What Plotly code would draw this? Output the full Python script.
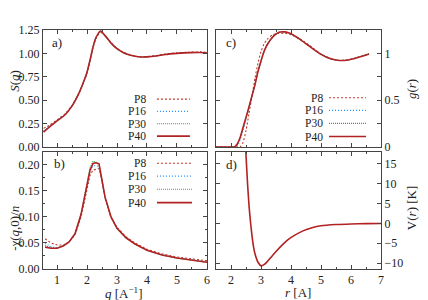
import plotly.graph_objects as go

# ---------------- data ----------------
series_names = ["P8", "P16", "P30", "P40"]

# panel a) S(q)
q_a = [0.55, 0.75, 1.0, 1.25, 1.5, 1.75, 1.9, 2.0, 2.1, 2.2, 2.3, 2.45, 2.6, 2.8,
       3.0, 3.2, 3.4, 3.6, 3.8, 4.0, 4.3, 4.6, 5.0, 5.4, 5.8, 6.0]
S_P40 = [0.16, 0.215, 0.28, 0.34, 0.44, 0.59, 0.71, 0.80, 0.93, 1.07, 1.17, 1.24, 1.19, 1.11,
         1.05, 1.01, 0.985, 0.97, 0.962, 0.963, 0.972, 0.988, 1.0, 1.008, 1.01, 1.005]
S_P30 = [0.165, 0.218, 0.282, 0.34, 0.44, 0.59, 0.71, 0.80, 0.93, 1.07, 1.17, 1.24, 1.19, 1.11,
         1.05, 1.01, 0.985, 0.97, 0.962, 0.963, 0.972, 0.988, 1.0, 1.008, 1.01, 1.005]
S_P16 = [0.172, 0.222, 0.285, 0.342, 0.44, 0.59, 0.71, 0.80, 0.93, 1.07, 1.17, 1.235, 1.19, 1.11,
         1.05, 1.01, 0.985, 0.97, 0.963, 0.965, 0.974, 0.99, 1.002, 1.01, 1.012, 1.008]
S_P8 = [0.20, 0.235, 0.292, 0.35, 0.445, 0.59, 0.70, 0.79, 0.92, 1.06, 1.16, 1.225, 1.19, 1.115,
        1.055, 1.015, 0.99, 0.972, 0.965, 0.967, 0.977, 0.993, 1.006, 1.013, 1.016, 1.012]

# panel b) -chi(q,0)/n
q_b = [0.6, 0.8, 1.0, 1.2, 1.4, 1.6, 1.8, 2.0, 2.1, 2.2, 2.3, 2.4, 2.5, 2.6, 2.8,
       3.0, 3.3, 3.6, 4.0, 4.5, 5.0, 5.5, 6.0]
chi_P40 = [0.042, 0.040, 0.040, 0.044, 0.052, 0.068, 0.105, 0.166, 0.190, 0.203, 0.204, 0.202,
           0.170, 0.138, 0.100, 0.078, 0.060, 0.048, 0.036, 0.027, 0.021, 0.017, 0.013]
chi_P30 = [0.045, 0.041, 0.040, 0.044, 0.052, 0.068, 0.105, 0.168, 0.195, 0.207, 0.205, 0.200,
           0.170, 0.138, 0.100, 0.078, 0.060, 0.048, 0.036, 0.027, 0.021, 0.017, 0.013]
chi_P16 = [0.049, 0.043, 0.041, 0.044, 0.052, 0.068, 0.104, 0.165, 0.188, 0.198, 0.199, 0.196,
           0.170, 0.138, 0.100, 0.078, 0.060, 0.048, 0.036, 0.027, 0.021, 0.017, 0.014]
chi_P8 = [0.058, 0.050, 0.046, 0.046, 0.052, 0.066, 0.100, 0.158, 0.180, 0.190, 0.192, 0.193,
          0.170, 0.136, 0.099, 0.080, 0.062, 0.050, 0.038, 0.029, 0.023, 0.019, 0.016]

# panel c) g(r)
r_c = [1.5, 2.0, 2.1, 2.2, 2.3, 2.4, 2.5, 2.6, 2.7, 2.8, 2.9, 3.0, 3.1, 3.2, 3.4, 3.6,
       3.8, 4.0, 4.3, 4.6, 5.0, 5.3, 5.6, 5.9, 6.2, 6.6]
g_P40 = [0.0, 0.0, 0.0, 0.03, 0.10, 0.21, 0.32, 0.43, 0.55, 0.67, 0.81, 0.92, 1.02, 1.09, 1.18, 1.225,
         1.23, 1.21, 1.15, 1.08, 0.99, 0.945, 0.925, 0.93, 0.955, 0.995]
g_P30 = [0.0, 0.0, 0.0, 0.02, 0.09, 0.20, 0.31, 0.43, 0.55, 0.67, 0.81, 0.92, 1.02, 1.09, 1.18, 1.225,
         1.23, 1.21, 1.15, 1.08, 0.99, 0.945, 0.925, 0.93, 0.955, 0.995]
g_P16 = [0.0, 0.0, 0.0, 0.01, 0.07, 0.18, 0.30, 0.42, 0.55, 0.67, 0.81, 0.92, 1.02, 1.09, 1.18, 1.225,
         1.23, 1.21, 1.15, 1.08, 0.99, 0.945, 0.925, 0.93, 0.955, 0.995]
g_P8 = [0.0, 0.0, 0.0, 0.0, 0.0, 0.05, 0.18, 0.36, 0.55, 0.74, 0.90, 1.02, 1.10, 1.15, 1.20, 1.215,
        1.215, 1.20, 1.155, 1.09, 0.995, 0.948, 0.925, 0.93, 0.955, 0.995]

# panel d) V(r)
r_d = [2.45, 2.5, 2.55, 2.6, 2.65, 2.7, 2.75, 2.8, 2.9, 3.0, 3.1, 3.2, 3.35, 3.5, 3.7, 3.9,
       4.1, 4.4, 4.7, 5.0, 5.5, 6.0, 6.5, 7.0]
V_r = [25.0, 17.0, 10.0, 4.4, 0.2, -3.2, -5.9, -7.7, -9.8, -10.7, -10.4, -9.7, -8.4, -7.1, -5.5, -4.1,
       -3.1, -1.9, -1.1, -0.6, -0.3, -0.15, -0.07, -0.03]

# ---------------- styles ----------------
colors = {"P8": "#c0392b", "P16": "#1e90ff", "P30": "#2aa24a", "P40": "#b22222"}
dashes = {"P8": "2px,2px", "P16": "1px,2px", "P30": "1px,1px", "P40": "solid"}
widths = {"P8": 1.1, "P16": 1.1, "P30": 1.1, "P40": 1.6}
FONT = "Liberation Serif"
AX = "#444444"

fig = go.Figure()

def add_set(x, ys, xa, ya, shape="linear"):
    for name, y in zip(series_names, ys):
        fig.add_trace(go.Scatter(x=x, y=y, mode="lines", name=name, showlegend=False,
                                 xaxis=xa, yaxis=ya,
                                 line=dict(color=colors[name], dash=dashes[name],
                                           width=widths[name], shape=shape, smoothing=0.6)))

add_set(q_a, [S_P8, S_P16, S_P30, S_P40], "x", "y", "spline")
add_set(r_c, [g_P8, g_P16, g_P30, g_P40], "x2", "y2", "spline")
add_set(q_b, [chi_P8, chi_P16, chi_P30, chi_P40], "x3", "y3", "linear")
fig.add_trace(go.Scatter(x=r_d, y=V_r, mode="lines", showlegend=False, xaxis="x4", yaxis="y4",
                         line=dict(color=colors["P40"], width=1.6, shape="spline", smoothing=0.6)))

def axis(**kw):
    base = dict(showline=True, linecolor=AX, linewidth=1, mirror="ticks", ticks="inside",
                ticklen=4, tickcolor=AX, showgrid=False, zeroline=False,
                tickfont=dict(family=FONT, size=12, color="#222"))
    base.update(kw)
    return base

xa_dom = [0, 0.485]
xc_dom = [0.512, 1]
top_dom = [0.51, 1]
bot_dom = [0, 0.49]

# page body has an 8px margin: the figure is sized so it ends at the window edge
fig.update_layout(
    width=420, height=292, margin=dict(l=35, r=47, t=22, b=31),
    paper_bgcolor="white", plot_bgcolor="white", showlegend=False,
    xaxis=axis(domain=xa_dom, anchor="y", range=[0.53, 6], dtick=1, showticklabels=False,
               minor=dict(dtick=0.5, ticks="inside", ticklen=2, tickcolor=AX)),
    yaxis=axis(domain=top_dom, anchor="x", range=[0, 1.25], dtick=0.25, tickformat=".2f"),
    xaxis2=axis(domain=xc_dom, anchor="y2", range=[1.5, 7], dtick=1, showticklabels=False,
                minor=dict(dtick=0.5, ticks="inside", ticklen=2, tickcolor=AX)),
    yaxis2=axis(domain=top_dom, anchor="x2", side="right", range=[0, 1.25],
                tickvals=[0, 0.5, 1], ticktext=["0", "0.5", "1"],
                minor=dict(tickvals=[0.25, 0.75], ticks="inside", ticklen=4, tickcolor=AX)),
    xaxis3=axis(domain=xa_dom, anchor="y3", range=[0.53, 6], dtick=1,
                minor=dict(dtick=0.5, ticks="inside", ticklen=2, tickcolor=AX)),
    yaxis3=axis(domain=bot_dom, anchor="x3", range=[0, 0.225], dtick=0.05, tickformat=".2f",
                minor=dict(dtick=0.025, ticks="inside", ticklen=2, tickcolor=AX)),
    xaxis4=axis(domain=xc_dom, anchor="y4", range=[1.5, 7], dtick=1,
                minor=dict(dtick=0.5, ticks="inside", ticklen=2, tickcolor=AX)),
    yaxis4=axis(domain=bot_dom, anchor="x4", side="right", range=[-11.5, 18], dtick=5),
)

ann = []
shapes = []
tf = dict(family=FONT, size=13, color="#222")
lf = dict(family=FONT, size=11.5, color="#222")

# panel labels
for txt, xr, yr, x, y in [("a)", "x", "y", 0.043, 0.897), ("b)", "x3", "y3", 0.055, 0.897),
                          ("c)", "x2", "y2", 0.048, 0.889), ("d)", "x4", "y4", 0.048, 0.889)]:
    ann.append(dict(text=txt, xref=xr + " domain", yref=yr + " domain", x=x, y=y,
                    xanchor="left", yanchor="middle", showarrow=False, font=tf))

# legends (text on the left, line sample on the right)
legend_specs = [("x", "y", 0.634, 0.695, 0.896, [0.41, 0.305, 0.2, 0.094]),
                ("x3", "y3", 0.634, 0.695, 0.909, [0.903, 0.793, 0.681, 0.567]),
                ("x2", "y2", 0.656, 0.685, 0.909, [0.421, 0.314, 0.203, 0.09])]
for xr, yr, xt, x0, x1, ys in legend_specs:
    for name, yy in zip(series_names, ys):
        ann.append(dict(text=name, xref=xr + " domain", yref=yr + " domain", x=xt, y=yy,
                        xanchor="right", yanchor="middle", showarrow=False, font=lf,
                        borderpad=0))
        shapes.append(dict(type="line", xref=xr + " domain", yref=yr + " domain",
                           x0=x0, x1=x1, y0=yy, y1=yy,
                           line=dict(color=colors[name], dash=dashes[name], width=widths[name])))

# axis titles
for txt, x, y, ang in [("<i>S</i>(<i>q</i>)", -0.083, 0.787, -90),
                       ("-χ(<i>q</i>,0)/<i>n</i>", -0.083, 0.172, -90),
                       ("<i>g</i>(<i>r</i>)", 1.089, 0.753, -90),
                       ("V(<i>r</i>) [K]", 1.089, 0.255, -90),
                       ("<i>q</i> [A<sup>−1</sup>]", 0.24, -0.1, 0),
                       ("<i>r</i> [A]", 0.754, -0.1, 0)]:
    ann.append(dict(text=txt, xref="paper", yref="paper", x=x, y=y, xanchor="center",
                    yanchor="middle", textangle=ang, showarrow=False, font=tf))

fig.update_layout(annotations=ann, shapes=shapes)
fig.write_html("out.html")
